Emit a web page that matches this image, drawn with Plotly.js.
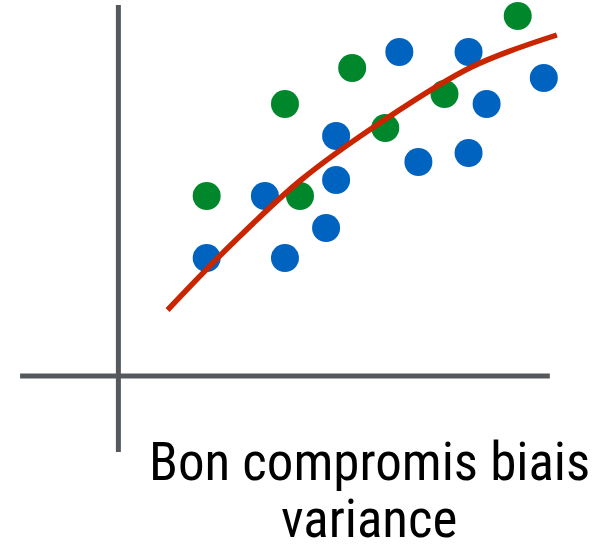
<!DOCTYPE html>
<html><head><meta charset="utf-8">
<script src="https://cdn.plot.ly/plotly-3.0.1.min.js"></script>
<style>html,body{margin:0;padding:0;background:#fff}</style>
</head><body><div id="chart" style="width:601px;height:547px"></div>
<script>
// Data units: origin at the axes crossing
const blueX = [2.2, 3.65, 4.15, 5.175, 5.425, 5.425, 7.0, 7.475, 8.725, 8.725, 9.175, 10.6];
const blueY = [2.95, 4.5, 2.95, 3.7, 4.9, 6.0, 8.1, 5.35, 8.1, 5.575, 6.8, 7.45];
const greenX = [2.2, 4.15, 4.525, 5.825, 6.65, 8.125, 9.95];
const greenY = [4.5, 6.8, 4.5, 7.7, 6.2, 7.05, 9.0];
const fitX = [1.225, 2.8, 4.55, 6.55, 8.8, 10.925];
const fitY = [1.65, 3.275, 4.9, 6.35, 7.725, 8.525];
const vAxisX = [0, 0];
const vAxisY = [-1.9, 9.275];
const hAxisX = [-2.45, 10.75];
const hAxisY = [0, 0];
const captionLines = ["Bon compromis biais", "variance"];

const axisColor = "#55585d";
const traces = [
  {x: vAxisX, y: vAxisY, mode: "lines", line: {color: axisColor, width: 5}, hoverinfo: "skip"},
  {x: hAxisX, y: hAxisY, mode: "lines", line: {color: axisColor, width: 5}, hoverinfo: "skip"},
  {x: blueX, y: blueY, mode: "markers", marker: {color: "#0063bf", size: 28}, cliponaxis: false},
  {x: greenX, y: greenY, mode: "markers", marker: {color: "#00872c", size: 28}, cliponaxis: false},
  {x: fitX, y: fitY, mode: "lines", line: {color: "#c92500", width: 5.5, shape: "spline", smoothing: 1}}
];
const capFont = {family: "Roboto Condensed, Liberation Sans Narrow, Roboto, sans-serif", size: 53, color: "#000000"};
const capY = [462, 519];
const layout = {
  width: 601, height: 547,
  margin: {l: 0, r: 0, t: 0, b: 0},
  showlegend: false,
  paper_bgcolor: "#ffffff", plot_bgcolor: "#ffffff",
  xaxis: {range: [-2.95, 12.025], visible: false, fixedrange: true},
  yaxis: {range: [-4.275, 9.4], visible: false, fixedrange: true},
  annotations: captionLines.map((t, i) => ({
    xref: "paper", yref: "paper", x: 369/601, y: 1 - capY[i]/547,
    xanchor: "center", yanchor: "middle", showarrow: false,
    text: t, align: "center", font: capFont
  }))
};
Plotly.newPlot("chart", traces, layout, {staticPlot: true, displayModeBar: false});
</script></body></html>
